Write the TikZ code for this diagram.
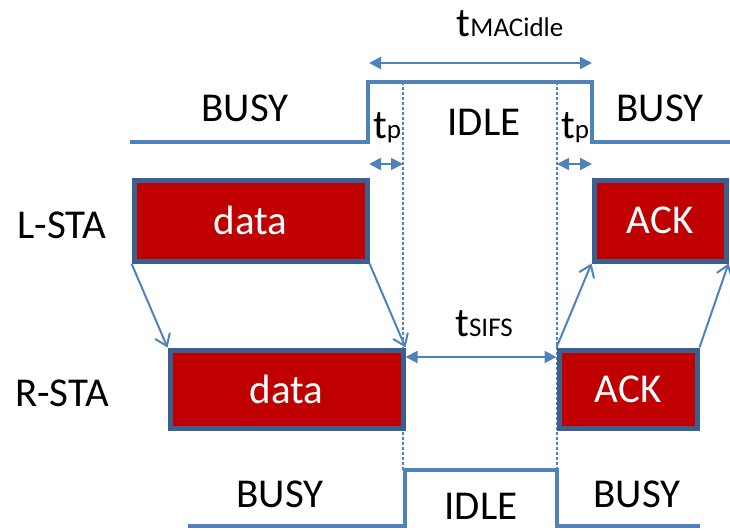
\documentclass[tikz,border=0pt]{standalone}
\usepackage{fontspec}
\setmainfont{Carlito}
\usetikzlibrary{arrows.meta}
\definecolor{sigblue}{HTML}{4F81BD}
\definecolor{frameblue}{HTML}{3B5F8F}
\definecolor{framered}{HTML}{C00000}
\tikzset{
  big/.style={font=\fontsize{41}{48}\selectfont, inner sep=0pt},
  signal/.style={draw=sigblue, line width=4.5pt, line join=miter},
  frame/.style={draw=frameblue, fill=framered, line width=5pt, inner sep=0pt,
    text=white, font=\fontsize{41}{48}\selectfont},
  hop/.style={draw=sigblue, line width=2pt, -{Straight Barb[length=11pt,width=16pt,line width=2pt]}},
  span/.style={draw=sigblue, line width=2pt, {Triangle[length=12pt,width=12pt]}-{Triangle[length=12pt,width=12pt]}},
  guide/.style={draw=sigblue, line width=1.3pt, dash pattern=on 3pt off 2pt}
}
\newcommand{\tsub}[1]{t{\fontsize{27}{30}\selectfont #1}}
\begin{document}
\begin{tikzpicture}[x=1pt,y=-1pt]
\useasboundingbox (0,0) rectangle (730,530);

% medium state seen by L-STA
\draw[signal] (130,142) -- (368,142) -- (368,82) -- (592,82) -- (592,142) -- (732,142);
% medium state seen by R-STA
\draw[signal] (188,526) -- (405,526) -- (405,470) -- (557,470) -- (557,526) -- (700,526);

% propagation guides
\coordinate (g1t) at (403,82);
\coordinate (g1b) at (403,470);
\coordinate (g2t) at (557,82);
\coordinate (g2b) at (557,470);
\draw[guide] (g1t) -- (g1b);
\draw[guide] (g2t) -- (g2b);

% frames
\node[frame, minimum width=233pt, minimum height=81pt] (ldata) at (250.5,220.5) {data};
\node[frame, minimum width=233pt, minimum height=78pt] (rdata) at (286.5,389) {data};
\node[frame, minimum width=132pt, minimum height=81pt] (lack) at (660,220.5) {ACK};
\node[frame, minimum width=138pt, minimum height=78pt] (rack) at (628,389) {ACK};

% propagation of frames
\draw[hop] (ldata.south west) -- (rdata.north west);
\draw[hop] (ldata.south east) -- (rdata.north east);
\draw[hop] (rack.north west) -- (lack.south west);
\draw[hop] (rack.north east) -- (lack.south east);

% time spans
\coordinate (m1) at (369,63);
\coordinate (m2) at (592,63);
\draw[span] (m1) -- (m2);
\coordinate (p1) at (369,164);
\coordinate (p2) at (403,164);
\draw[span] (p1) -- (p2);
\coordinate (p3) at (557,164);
\coordinate (p4) at (592,164);
\draw[span] (p3) -- (p4);
\draw[span] (rdata.east |- 0,357) -- (rack.west |- 0,357);

% labels
\node[big] (tmac) at (510,24) {\tsub{MACidle}};
\node[big] (tp1) at (387,128) {\tsub{p}};
\node[big] (tp2) at (575,128) {\tsub{p}};
\node[big] (tsifs) at (484,324) {\tsub{SIFS}};
\node[big] (busy1) at (245,108) {BUSY};
\node[big] (idle1) at (484,122) {IDLE};
\node[big] (busy2) at (660,108) {BUSY};
\node[big] (lsta) at (62,225) {L-STA};
\node[big] (rsta) at (62,393) {R-STA};
\node[big] (busy3) at (280,494) {BUSY};
\node[big] (idle2) at (481,506) {IDLE};
\node[big] (busy4) at (637,494) {BUSY};
\end{tikzpicture}
\end{document}
